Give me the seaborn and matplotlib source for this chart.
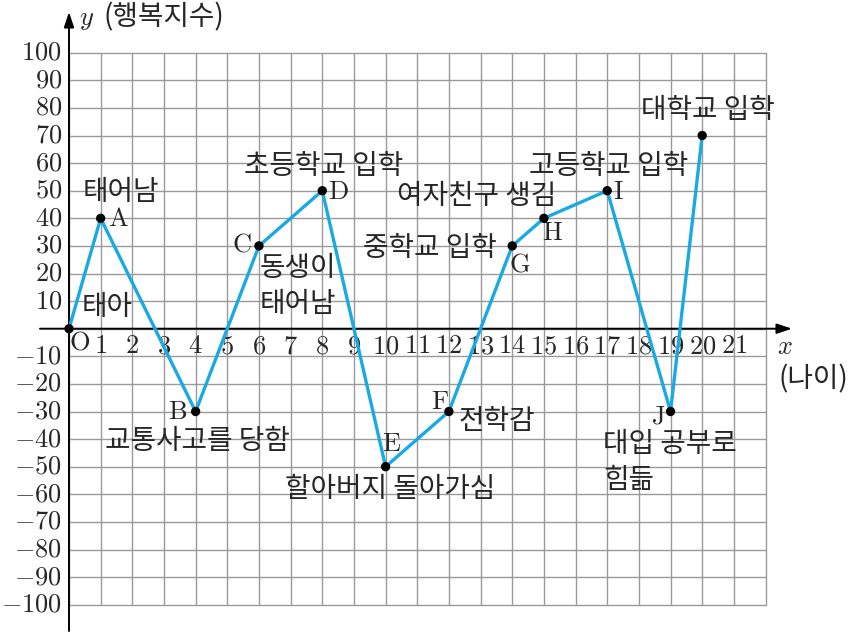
import matplotlib
matplotlib.use("Agg")
import matplotlib.pyplot as plt
import seaborn as sns
import pandas as pd

# ---- data ----
ages = [0, 1, 4, 6, 8, 10, 12, 14, 15, 17, 19, 20]
happiness = [0, 40, -30, 30, 50, -50, -30, 30, 40, 50, -30, 70]
point_names = ["O", "A", "B", "C", "D", "E", "F", "G", "H", "I", "J", ""]
x_ticks = list(range(1, 22))
y_ticks = [v for v in range(-100, 101, 10) if v != 0]
events = ["태아", "태어남", "교통사고를 당함", "동생이\n태어남", "초등학교 입학",
          "할아버지 돌아가심", "전학감", "중학교 입학", "여자친구 생김",
          "고등학교 입학", "대입 공부로\n힘듦", "대학교 입학"]

df = pd.DataFrame({"age": ages, "happy": happiness})

sns.set_style("white")
plt.rcParams["mathtext.fontset"] = "cm"
KR = ["Noto Sans CJK KR", "DejaVu Sans"]
KW = "light"

W, H = 850, 633
fig = plt.figure(figsize=(8.5, 6.33), dpi=100)
ax = fig.add_axes([0, 0, 1, 1])

X0, Y0, SX, SY = 69.0, 328.7, 31.66, 2.76
def P(xp, yp):
    return ((xp - X0) / SX, (Y0 - yp) / SY)

ax.set_xlim(-X0 / SX, (W - X0) / SX)
ax.set_ylim((Y0 - H) / SY, Y0 / SY)
ax.axis("off")

# grid
for gx in range(0, 23):
    ax.plot([gx, gx], [-100, 100], color="#9a9a9a", lw=1.0, zorder=1)
for gy in range(-100, 101, 10):
    ax.plot([0, 22], [gy, gy], color="#9a9a9a", lw=1.0, zorder=1)

# axes with arrows
x_start = P(40, 0)[0]
x_end = P(792, 0)[0]
ax.annotate("", xy=(x_end, 0), xytext=(x_start, 0),
            arrowprops=dict(arrowstyle="-|>,head_length=0.9,head_width=0.3",
                            color="black", lw=1.4, shrinkA=0, shrinkB=0), zorder=3)
y_start = P(0, 631)[1]
y_end = P(0, 12)[1]
ax.annotate("", xy=(0, y_end), xytext=(0, y_start),
            arrowprops=dict(arrowstyle="-|>,head_length=0.9,head_width=0.3",
                            color="black", lw=1.4, shrinkA=0, shrinkB=0), zorder=3)

# data line and points
sns.lineplot(data=df, x="age", y="happy", ax=ax, color="#19a9e3", lw=2.4,
             zorder=4, legend=False)
sns.scatterplot(data=df, x="age", y="happy", ax=ax, color="black", s=45,
                edgecolor="none", zorder=5, legend=False)

# tick labels
NFS = 19
for t in x_ticks:
    ax.text(t, P(0, 346)[1], f"${t}$", ha="center", va="center", fontsize=NFS)
for t in y_ticks:
    ax.text(P(62, 0)[0], t, f"${t}$", ha="right", va="center", fontsize=NFS)

# axis titles
KFS = 20
ax.text(*P(87, 19), r"$y$", ha="center", va="center", fontsize=NFS)
ax.text(*P(104, 17), "(행복지수)", ha="left", va="center", fontsize=KFS,
        family=KR, fontweight=KW)
ax.text(*P(785, 347), r"$x$", ha="center", va="center", fontsize=NFS)
ax.text(*P(813, 379), "(나이)", ha="center", va="center", fontsize=KFS,
        family=KR, fontweight=KW)

# point letters
letter_pos = {"O": (80, 343), "A": (118, 219), "B": (178, 412), "C": (242, 245),
              "D": (338, 192), "E": (392, 444), "F": (440, 402), "G": (520, 264),
              "H": (552, 233), "I": (618, 192), "J": (658, 416)}
for name in point_names:
    if name:
        ax.text(*P(*letter_pos[name]), rf"$\mathrm{{{name}}}$", ha="center",
                va="center", fontsize=NFS)

# event labels
event_pos = [
    ((107, 307), "center"), ((121, 192), "center"), ((197, 441), "center"),
    ((298, 286), "center"), ((324, 166), "center"), ((390, 489), "center"),
    ((497, 421), "center"), ((430, 248), "center"), ((477, 196), "center"),
    ((609, 166), "center"), ((603, 462), "left"), ((708, 110), "center"),
]
for txt, ((xp, yp), ha) in zip(events, event_pos):
    ax.text(*P(xp, yp), txt, ha=ha, va="center", fontsize=KFS, family=KR,
            fontweight=KW, linespacing=1.3, zorder=6)

fig.savefig("out.png", dpi=100)
